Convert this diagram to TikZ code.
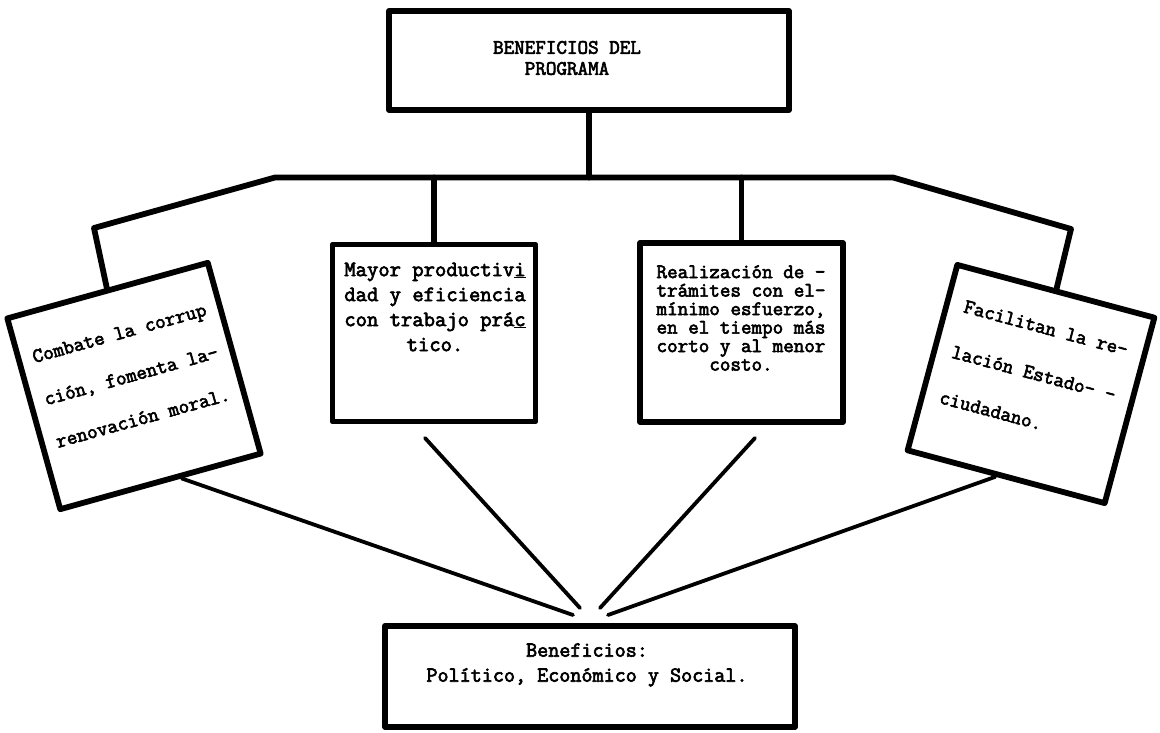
\documentclass[tikz,border=0pt]{standalone}
\usepackage{fontspec}
\newfontfamily\tw{Latin Modern Mono}[FakeBold=3]
\usetikzlibrary{calc}

\begin{document}
\begin{tikzpicture}[x=1pt,y=-1pt,
  frame/.style={draw, line width=5.8pt, inner sep=0pt, line join=round},
  link/.style={line width=5.8pt, line join=round, line cap=round},
  ray/.style={line width=3.8pt, line cap=round},
  txt/.style={font=\tw\fontsize{20.5}{#1}\selectfont, inner sep=0pt},
  txt/.default=21
]
\useasboundingbox (0,0) rectangle (1160,733);
\fill[white] (0,0) rectangle (1160,733);

% boxes
\node[frame, minimum width=400pt, minimum height=99pt] (top) at (589,60.5) {};
\node[frame, rotate=15.5, minimum width=208pt, minimum height=198pt] (b1) at (134,386) {};
\node[frame, minimum width=203pt, minimum height=177pt] (b2) at (434,333) {};
\node[frame, minimum width=203pt, minimum height=179pt] (b3) at (741.5,332.5) {};
\node[frame, rotate=-15, minimum width=204pt, minimum height=192pt] (b4) at (1031,384) {};
\node[frame, minimum width=410pt, minimum height=101pt] (bot) at (590,676.5) {};

% texts
\node[txt=21, align=center] (ttop) at (567,58) {BENEFICIOS DEL\\PROGRAMA};
\node[txt=44, rotate=15.5, align=left] (t1) at ($(b1.center)!11pt!(b1.north)$)
  {Combate la corrup\\ción, fomenta la-\\renovación moral.};
\node[txt=25, align=center, font=\tw\fontsize{22}{25}\selectfont] (t2) at (435,307)
  {Mayor productiv\underline{i}\\dad y eficiencia\\con trabajo prá\underline{c}\\tico.};
\node[txt=18.5, align=center] (t3) at (741,318)
  {Realización de -\\trámites con el-\\mínimo esfuerzo,\\en el tiempo más\\corto y al menor\\costo.};
\node[txt=47, rotate=-15, align=left] (t4) at ($(b4.center)!11pt!(b4.north)$)
  {Facilitan la re-\\lación Estado– -\\ciudadano.};
\node[txt=25, align=center, font=\tw\fontsize{21.5}{25}\selectfont] (tbot) at (587,665)
  {Beneficios:\\Político, Económico y Social.};

% tree connectors
\coordinate (jL) at (94,228);
\coordinate (kL) at (275,177.5);
\coordinate (kR) at (893,177.5);
\coordinate (jR) at (1071,229);
\draw[link] (top.south) -- (top.south |- kL);
\draw[link] (b1.north) -- (jL) -- (kL) -- (kR) -- (jR) -- (b4.north);
\draw[link] (b2.north) -- (b2.north |- kL);
\draw[link] (b3.north) -- (b3.north |- kL);

% converging rays
\coordinate (s1) at ($(b1.south east)!0.4!(b1.south west)$);
\coordinate (s2) at (425,438);
\coordinate (s3) at (755,438);
\coordinate (s4) at ($(b4.south west)!0.45!(b4.south east)$);
\coordinate (e1) at (573,615);
\coordinate (e2) at (580,608);
\coordinate (e3) at (600,608);
\coordinate (e4) at (608,615);
\draw[ray] (s1) -- (e1);
\draw[ray] (s2) -- (e2);
\draw[ray] (s3) -- (e3);
\draw[ray] (s4) -- (e4);
\end{tikzpicture}
\end{document}
